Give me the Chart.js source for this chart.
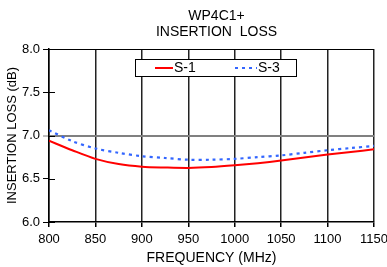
<!DOCTYPE html>
<html><head><meta charset="utf-8">
<script src="https://cdn.jsdelivr.net/npm/chart.js@4.4.0/dist/chart.umd.min.js"></script>
<style>html,body{margin:0;padding:0;background:#fff;}canvas{display:block;}</style>
</head><body>
<canvas id="c" width="387" height="267"></canvas>
<script>
const titleLines = ['WP4C1+', 'INSERTION  LOSS'];
const frequencies = [800, 825, 850, 875, 900, 925, 950, 975, 1000, 1025, 1050, 1075, 1100, 1125, 1150];
const s1Values = [6.94, 6.83, 6.73, 6.67, 6.64, 6.63, 6.625, 6.635, 6.655, 6.68, 6.71, 6.745, 6.78, 6.81, 6.84];
const s3Values = [7.06, 6.935, 6.85, 6.80, 6.76, 6.74, 6.72, 6.72, 6.73, 6.75, 6.77, 6.80, 6.83, 6.855, 6.88];
const seriesLabels = ['S-1', 'S-3'];
const xTitle = 'FREQUENCY (MHz)';
const yTitle = 'INSERTION LOSS (dB)';

const FONT = '"Liberation Sans", Arial, sans-serif';

const overlay = {
  id: 'overlay',
  afterDraw(chart) {
    const ctx = chart.ctx, a = chart.chartArea;
    const ys = chart.scales.y;
    ctx.save();
    ctx.strokeStyle = '#000'; ctx.lineWidth = 1;
    ys.ticks.forEach(t => {
      const py = Math.round(ys.getPixelForValue(t.value)) + 0.5;
      ctx.beginPath(); ctx.moveTo(a.left, py); ctx.lineTo(a.left + 6, py); ctx.stroke();
    });
    ctx.fillStyle = '#000';
    ctx.font = '14px ' + FONT;
    ctx.textAlign = 'center'; ctx.textBaseline = 'middle';
    const cx = (a.left + a.right) / 2 + 5;
    ctx.fillText(titleLines[0], cx, 16.5);
    ctx.fillText(titleLines[1], cx, 32);
    const lx = a.left + 86, ly = a.top + 10, lw = 161, lh = 17;
    ctx.fillStyle = '#fff';
    ctx.fillRect(lx, ly, lw, lh);
    ctx.strokeStyle = '#000'; ctx.lineWidth = 1;
    ctx.strokeRect(lx + 0.5, ly + 0.5, lw, lh);
    const my = ly + lh / 2 + 0.5;
    const ds = chart.data.datasets;
    const items = [{x: lx + 20, len: 18}, {x: lx + 100, len: 22}];
    items.forEach((it, i) => {
      ctx.strokeStyle = ds[i].borderColor; ctx.lineWidth = 2;
      ctx.setLineDash(ds[i].borderDash || []);
      ctx.beginPath(); ctx.moveTo(it.x, my); ctx.lineTo(it.x + it.len, my); ctx.stroke();
      ctx.setLineDash([]);
      ctx.fillStyle = '#000'; ctx.font = '14px ' + FONT;
      ctx.textAlign = 'left'; ctx.textBaseline = 'middle';
      ctx.fillText(ds[i].label, it.x + it.len + 1, my + 0.5);
    });
    ctx.restore();
  }
};

new Chart(document.getElementById('c'), {
  type: 'line',
  data: {
    datasets: [
      { label: seriesLabels[0], data: frequencies.map((f, i) => ({x: f, y: s1Values[i]})),
        borderColor: '#ff0000', borderWidth: 2, pointRadius: 0, tension: 0.3, fill: false },
      { label: seriesLabels[1], data: frequencies.map((f, i) => ({x: f, y: s3Values[i]})),
        borderColor: '#3366ff', borderWidth: 2.2, borderDash: [3, 4], pointRadius: 0, tension: 0.3, fill: false }
    ]
  },
  options: {
    responsive: false, animation: false, devicePixelRatio: 1,
    layout: { padding: { top: 49, right: 13, bottom: 0, left: 0 } },
    plugins: { legend: { display: false }, title: { display: false }, tooltip: { enabled: false } },
    scales: {
      x: {
        type: 'linear', min: 800, max: 1150,
        ticks: { stepSize: 50, color: '#000', font: { family: FONT, size: 13 }, padding: 5, maxRotation: 0, autoSkip: false,
          callback: v => String(v) },
        grid: { color: '#222', lineWidth: 1.5, tickLength: 5, tickColor: '#000' },
        border: { color: '#000', width: 1.5 },
        title: { display: true, text: xTitle, color: '#000', font: { family: FONT, size: 14 }, padding: { top: 0, bottom: 0 } },
        afterFit(s) { s.paddingLeft = 0; s.paddingRight = 0; s.height = 45; }
      },
      y: {
        min: 6, max: 8,
        ticks: { stepSize: 0.5, color: '#000', font: { family: FONT, size: 13 }, padding: 3,
          callback: v => v.toFixed(1) },
        grid: {
          color: c => c.tick.value === 7 ? '#808080' : (c.tick.value === 8 ? '#000' : 'rgba(0,0,0,0)'),
          lineWidth: c => c.tick.value === 7 ? 2 : 1,
          tickLength: 6, tickColor: c => c.tick.value === 7 ? '#808080' : '#000', tickWidth: 1
        },
        border: { color: '#000', width: 1.5 },
        title: { display: true, text: yTitle, color: '#000', font: { family: FONT, size: 13 }, padding: { top: 5, bottom: 0 } },
        afterFit(s) { s.paddingTop = 0; s.paddingBottom = 0; s.width = 49; }
      }
    }
  },
  plugins: [overlay]
});
</script>
</body></html>
